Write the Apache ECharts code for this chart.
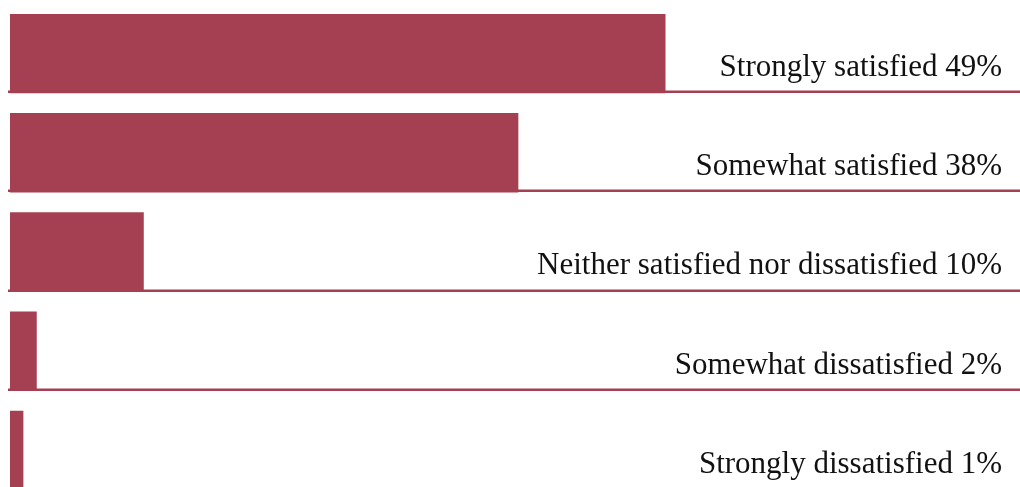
<!DOCTYPE html>
<html>
<head>
<meta charset="utf-8">
<script src="https://cdn.jsdelivr.net/npm/echarts@6/dist/echarts.min.js"></script>
<style>
  html, body { margin: 0; padding: 0; background: #ffffff; }
  #chart { width: 1020px; height: 487px; }
</style>
</head>
<body>
<div id="chart"></div>
<script>
// Satisfaction survey responses (share of respondents, %)
const categories = [
  'Strongly satisfied',
  'Somewhat satisfied',
  'Neither satisfied nor dissatisfied',
  'Somewhat dissatisfied',
  'Strongly dissatisfied'
];
const values = [49, 38, 10, 2, 1];

const barColor = '#a44052';
const textColor = '#111111';
const axisMax = 75.5;
const gapRatio = 0.2; // barCategoryGap as a fraction of each band

const chart = echarts.init(document.getElementById('chart'), null, { renderer: 'canvas' });

chart.setOption({
  animation: false,
  backgroundColor: '#ffffff',
  // the last row runs past the bottom edge of the canvas
  grid: { left: 10, right: 0, top: 4, height: 496, containLabel: false, outerBoundsMode: 'none' },
  xAxis: {
    type: 'value', min: 0, max: axisMax,
    show: false
  },
  yAxis: {
    type: 'category', data: categories, inverse: true,
    show: false
  },
  series: [
    {
      type: 'bar',
      data: values,
      barCategoryGap: (gapRatio * 100) + '%',
      itemStyle: { color: barColor },
      silent: true
    },
    {
      // baseline rule under each row plus its right-aligned caption
      type: 'custom',
      data: values.map((v, i) => [i, v]),
      encode: { y: 0 },
      silent: true,
      renderItem: function (params, api) {
        const idx = api.value(0);
        const val = api.value(1);
        const center = api.coord([0, idx]);
        const band = api.size([0, 1])[1];
        const bottom = center[1] + band * (1 - gapRatio) / 2;
        const w = api.getWidth();
        return {
          type: 'group',
          children: [
            {
              type: 'rect',
              shape: { x: 8, y: Math.round(bottom) - 2.5, width: w - 8, height: 2.5 },
              style: { fill: barColor }
            },
            {
              type: 'text',
              style: {
                x: 1002,
                y: bottom - 25.5,
                text: categories[idx] + ' ' + val + '%',
                fill: textColor,
                font: '31px "Liberation Serif", "DejaVu Serif", serif',
                align: 'right',
                verticalAlign: 'middle'
              }
            }
          ]
        };
      }
    }
  ]
});
</script>
</body>
</html>
